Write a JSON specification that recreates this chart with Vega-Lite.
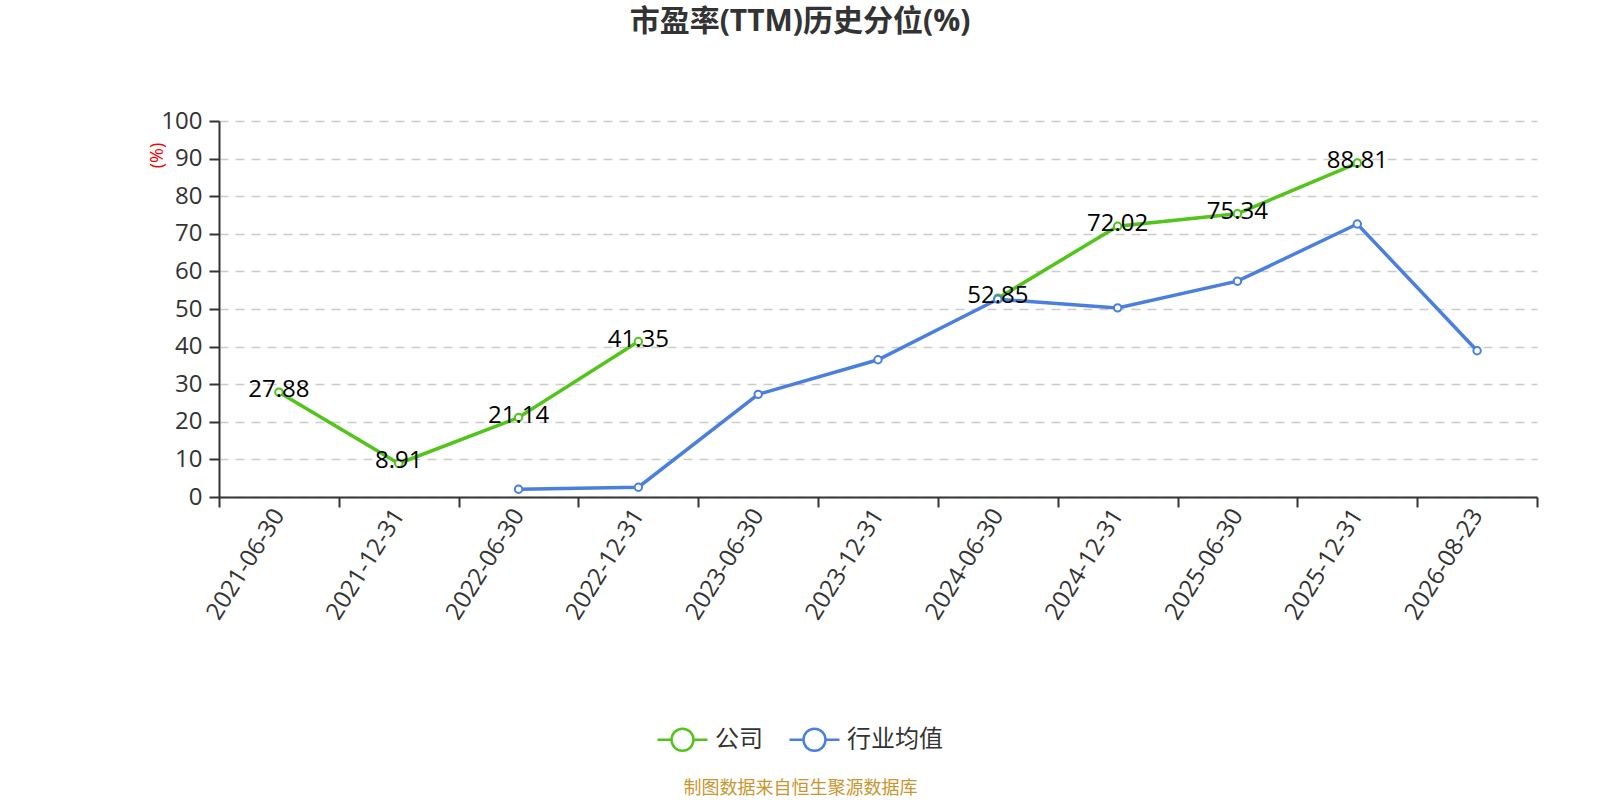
{
  "$schema": "https://vega.github.io/schema/vega-lite/v6.json",
  "width": 1318,
  "height": 376,
  "autosize": {"type": "none"},
  "padding": {"left": 219, "top": 121, "right": 63, "bottom": 303},
  "title": {
    "text": "市盈率(TTM)历史分位(%)",
    "fontSize": 30,
    "fontWeight": "bold",
    "color": "#333333",
    "anchor": "middle",
    "dx": -78,
    "offset": 72
  },
  "data": {
    "values": [
      {"date": "2021-06-30", "series": "公司", "value": 27.88},
      {"date": "2021-12-31", "series": "公司", "value": 8.91},
      {"date": "2022-06-30", "series": "公司", "value": 21.14},
      {"date": "2022-12-31", "series": "公司", "value": 41.35},
      {"date": "2023-06-30", "series": "公司", "value": null},
      {"date": "2023-12-31", "series": "公司", "value": null},
      {"date": "2024-06-30", "series": "公司", "value": 52.85},
      {"date": "2024-12-31", "series": "公司", "value": 72.02},
      {"date": "2025-06-30", "series": "公司", "value": 75.34},
      {"date": "2025-12-31", "series": "公司", "value": 88.81},
      {"date": "2026-08-23", "series": "公司", "value": null},
      {"date": "2021-06-30", "series": "行业均值", "value": null},
      {"date": "2021-12-31", "series": "行业均值", "value": null},
      {"date": "2022-06-30", "series": "行业均值", "value": 2.05},
      {"date": "2022-12-31", "series": "行业均值", "value": 2.6},
      {"date": "2023-06-30", "series": "行业均值", "value": 27.3},
      {"date": "2023-12-31", "series": "行业均值", "value": 36.5},
      {"date": "2024-06-30", "series": "行业均值", "value": 52.6},
      {"date": "2024-12-31", "series": "行业均值", "value": 50.3},
      {"date": "2025-06-30", "series": "行业均值", "value": 57.4},
      {"date": "2025-12-31", "series": "行业均值", "value": 72.6},
      {"date": "2026-08-23", "series": "行业均值", "value": 38.9}
    ]
  },
  "encoding": {
    "x": {
      "field": "date",
      "type": "ordinal",
      "bandPosition": 0.5,
      "scale": {"type": "band", "paddingInner": 0, "paddingOuter": 0},
      "axis": {
        "title": "制图数据来自恒生聚源数据库",
        "titleColor": "#c9952f",
        "titleFontSize": 18,
        "titleFontWeight": "normal",
        "titleX": 581,
        "titleY": 291,
        "titleAlign": "center",
        "titleBaseline": "middle",
        "labelAngle": -58,
        "labelFontSize": 24,
        "labelColor": "#333333",
        "labelPadding": 4,
        "tickBand": "extent",
        "tickSize": 10,
        "tickWidth": 2,
        "tickColor": "#333333",
        "domainColor": "#333333",
        "domainWidth": 2,
        "grid": false
      }
    },
    "y": {
      "field": "value",
      "type": "quantitative",
      "scale": {"domain": [0, 100]},
      "axis": {
        "title": "(%)",
        "titleColor": "red",
        "titleFontSize": 18,
        "titleFontWeight": "normal",
        "titleX": -62,
        "titleY": 34,
        "titleAlign": "center",
        "titleBaseline": "middle",
        "values": [0, 10, 20, 30, 40, 50, 60, 70, 80, 90, 100],
        "labelFontSize": 24,
        "labelColor": "#333333",
        "labelPadding": 7,
        "tickSize": 10,
        "tickWidth": 2,
        "tickColor": "#333333",
        "domainColor": "#333333",
        "domainWidth": 2,
        "grid": true,
        "gridColor": "#cccccc",
        "gridDash": [9, 7],
        "gridWidth": 1.5
      }
    }
  },
  "layer": [
    {
      "mark": {"type": "line", "strokeWidth": 3.5, "invalid": "break-paths-show-domains"},
      "encoding": {
        "stroke": {
          "field": "series",
          "type": "nominal",
          "scale": {"domain": ["公司", "行业均值"], "range": ["#52c41a", "#4a7fe0"]},
          "legend": {
            "title": null,
            "orient": "none",
            "direction": "horizontal",
            "legendX": 437,
            "legendY": 592,
            "symbolType": "M-1,0L-0.44,0M0.44,0L1,0M-0.44,0A0.44,0.44,0,1,1,0.44,0A0.44,0.44,0,1,1,-0.44,0Z",
            "symbolSize": 2500,
            "symbolStrokeWidth": 2.5,
            "symbolFillColor": "white",
            "labelFontSize": 24,
            "labelColor": "#333333",
            "labelOffset": 6,
            "columnPadding": 21
          }
        }
      }
    },
    {
      "mark": {"type": "point", "shape": "circle", "filled": true, "fill": "white", "size": 55, "strokeWidth": 2, "opacity": 1},
      "encoding": {
        "stroke": {"field": "series", "type": "nominal"}
      }
    },
    {
      "transform": [{"filter": "datum.series === '公司' && datum.value != null"}],
      "mark": {"type": "text", "fontSize": 24, "color": "#000000", "baseline": "middle", "dy": -2},
      "encoding": {
        "text": {"field": "value", "type": "quantitative", "format": ".2f"}
      }
    }
  ],
  "config": {
    "font": "Open Sans, Noto Sans CJK SC",
    "view": {"stroke": null}
  }
}
